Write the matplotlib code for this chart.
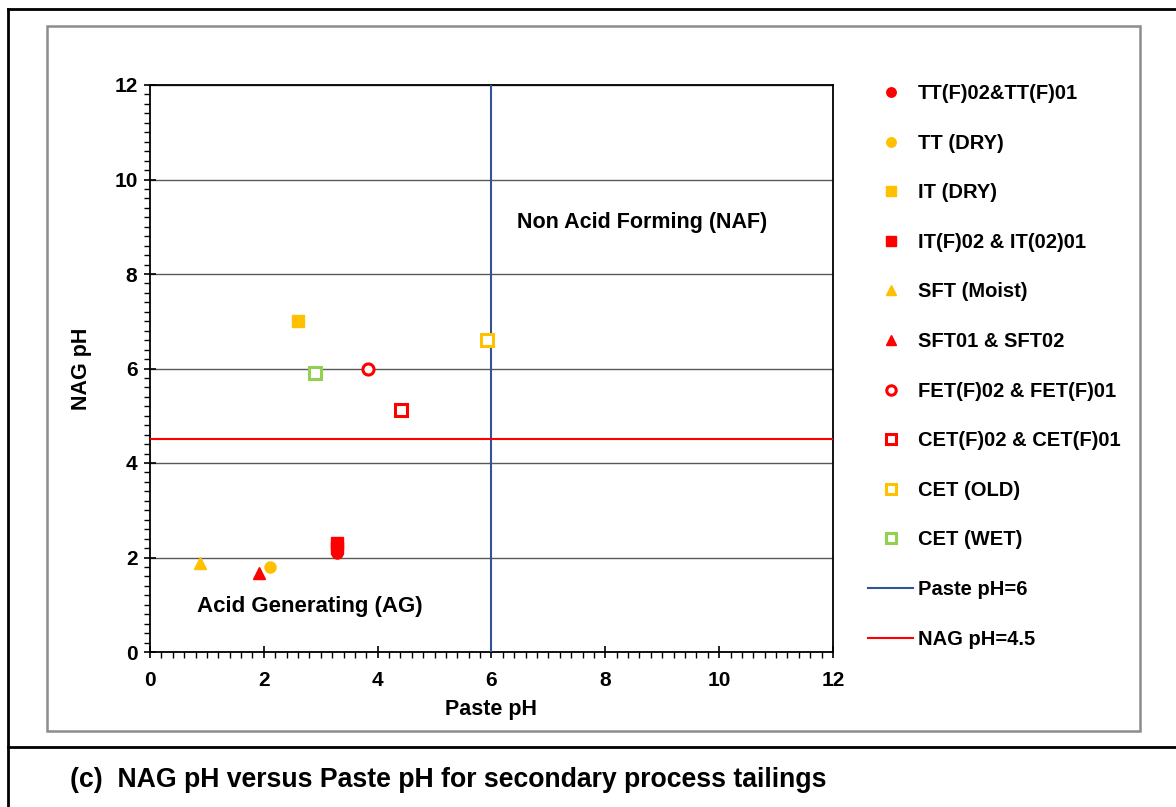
import matplotlib.pyplot as plt
from matplotlib.lines import Line2D
from matplotlib.patches import Rectangle
from matplotlib.ticker import MultipleLocator

plt.rcParams['font.family'] = ['Liberation Sans', 'DejaVu Sans']
plt.rcParams['font.weight'] = 'bold'

RED = '#FF0000'
ORANGE = '#FFC000'
GREEN = '#92D050'
BLUE = '#2F5597'

# series values
tt_f_x = [3.28]
tt_f_y = [2.1]
tt_dry_x = [2.1]
tt_dry_y = [1.8]
it_dry_x = [2.6]
it_dry_y = [7.0]
it_f_x = [3.28, 3.28]
it_f_y = [2.3, 2.2]
sft_moist_x = [0.88]
sft_moist_y = [1.88]
sft_x = [1.92]
sft_y = [1.67]
fet_x = [3.83]
fet_y = [6.0]
cet_f_x = [4.41]
cet_f_y = [5.12]
cet_old_x = [5.92]
cet_old_y = [6.6]
cet_wet_x = [2.9]
cet_wet_y = [5.9]

paste_limit = 6
nag_limit = 4.5

series = [
    ('TT(F)02&TT(F)01', tt_f_x, tt_f_y, 'o', RED, True),
    ('TT (DRY)', tt_dry_x, tt_dry_y, 'o', ORANGE, True),
    ('IT (DRY)', it_dry_x, it_dry_y, 's', ORANGE, True),
    ('IT(F)02 & IT(02)01', it_f_x, it_f_y, 's', RED, True),
    ('SFT (Moist)', sft_moist_x, sft_moist_y, '^', ORANGE, True),
    ('SFT01 & SFT02', sft_x, sft_y, '^', RED, True),
    ('FET(F)02 & FET(F)01', fet_x, fet_y, 'o', RED, False),
    ('CET(F)02 & CET(F)01', cet_f_x, cet_f_y, 's', RED, False),
    ('CET (OLD)', cet_old_x, cet_old_y, 's', ORANGE, False),
    ('CET (WET)', cet_wet_x, cet_wet_y, 's', GREEN, False),
]

fig = plt.figure(figsize=(11.76, 8.07), dpi=100)
W, H = 1176, 807

# outer frame and caption box
fig.add_artist(Line2D([8 / W, 8 / W], [0, 1 - 9 / H], color='black', lw=2, transform=fig.transFigure))
fig.add_artist(Line2D([8 / W, 1], [1 - 9 / H, 1 - 9 / H], color='black', lw=2, transform=fig.transFigure))
fig.add_artist(Line2D([8 / W, 1], [1 - 747 / H, 1 - 747 / H], color='black', lw=2, transform=fig.transFigure))
fig.add_artist(Rectangle((47 / W, 1 - 731 / H), (1140 - 47) / W, (731 - 26) / H, fill=False,
                         edgecolor='#8C8C8C', lw=1.8, transform=fig.transFigure))

ax = fig.add_axes([150 / W, 1 - 652 / H, (833 - 150) / W, (652 - 85) / H])

handles = []
for label, xs, ys, marker, color, filled in series:
    if filled:
        h, = ax.plot(xs, ys, linestyle='none', marker=marker, markersize=8,
                     color=color, markeredgecolor=color, label=label, zorder=4)
    else:
        h, = ax.plot(xs, ys, linestyle='none', marker=marker, markersize=8,
                     markerfacecolor='white', markeredgecolor=color, markeredgewidth=2.2,
                     label=label, zorder=4)
    handles.append(h)

vline = ax.axvline(paste_limit, color=BLUE, lw=1.5, label='Paste pH=6', zorder=3)
hline = ax.axhline(nag_limit, color=RED, lw=1.5, label='NAG pH=4.5', zorder=3)
handles += [vline, hline]

ax.set_xlim(0, 12)
ax.set_ylim(0, 12)
ax.xaxis.set_major_locator(MultipleLocator(2))
ax.yaxis.set_major_locator(MultipleLocator(2))
ax.xaxis.set_minor_locator(MultipleLocator(0.2))
ax.yaxis.set_minor_locator(MultipleLocator(0.2))
ax.tick_params(which='major', direction='inout', length=8, width=1.2, labelsize=15)
ax.tick_params(axis='x', which='major', pad=10)
ax.tick_params(axis='y', which='major', pad=5)
ax.tick_params(which='minor', direction='out', length=4, width=1)
for lbl in ax.get_xticklabels() + ax.get_yticklabels():
    lbl.set_fontweight('bold')
ax.grid(axis='y', which='major', color='#595959', lw=1)
ax.set_axisbelow(True)
for sp in ax.spines.values():
    sp.set_color('black')
    sp.set_linewidth(1.3)

ax.set_xlabel('Paste pH', fontsize=15.5, fontweight='bold', labelpad=6)
ax.set_ylabel('NAG pH', fontsize=15.5, fontweight='bold', labelpad=16)

ax.text(6.45, 9.1, 'Non Acid Forming (NAF)', fontsize=15.5, fontweight='bold', va='center')
ax.text(0.83, 0.97, 'Acid Generating (AG)', fontsize=16, fontweight='bold', va='center')

fig.legend(handles=handles, loc='upper left', bbox_to_anchor=(868 / W, 1 - 84 / H),
           frameon=False, markerscale=0.85, handlelength=2.24, handletextpad=0.25,
           labelspacing=1.52, borderpad=0, borderaxespad=0,
           prop={'weight': 'bold', 'size': 14.5})

fig.text(70 / W, 1 - 780 / H, '(c)  NAG pH versus Paste pH for secondary process tailings',
         fontsize=19.2, fontweight='bold', va='center')

fig.savefig('out.png', dpi=100)
